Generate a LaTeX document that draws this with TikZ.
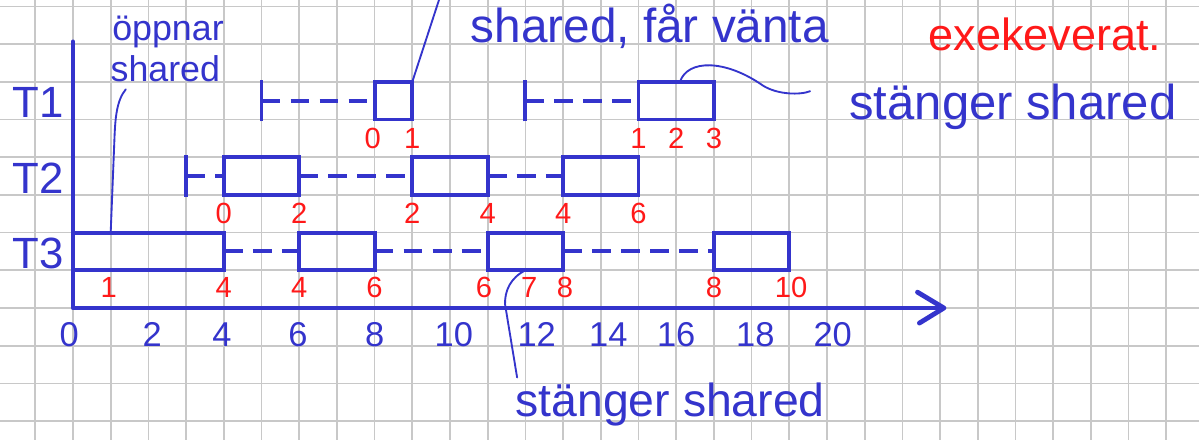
\documentclass[tikz,border=0pt]{standalone}
\usepackage{fontspec}
\setmainfont{Liberation Sans}
\usetikzlibrary{calc}
\definecolor{hb}{RGB}{52,52,204}
\definecolor{hr}{RGB}{255,25,25}
\definecolor{gridc}{RGB}{200,200,200}
\begin{document}
\begin{tikzpicture}[x=1cm,y=1cm,
  box/.style={draw=hb,line width=3pt,rectangle,inner sep=0pt,outer sep=0pt,minimum height=1cm},
  dl/.style={draw=hb,line width=3pt,dash pattern=on 0.5cm off 0.27cm},
  tk/.style={draw=hb,line width=3pt},
  ax/.style={draw=hb,line width=3.6pt,line cap=round,line join=round},
  rl/.style={text=hr,font=\fontsize{22}{24}\selectfont,inner sep=0pt,anchor=base},
  al/.style={text=hb,font=\fontsize{26}{28}\selectfont,inner sep=0pt,anchor=base},
  tl/.style={text=hb,font=\fontsize{33}{36}\selectfont,inner sep=0pt,anchor=base},
  ann/.style={text=hb,inner sep=0pt,anchor=base},
  ln/.style={draw=hb,line width=1.4pt,line cap=round}
]
\useasboundingbox (-1.936,-3.475) rectangle (29.867,8.170);
\fill[white] (-1.936,-3.475) rectangle (29.867,8.170);
\begin{scope}
\clip (-1.936,-3.475) rectangle (29.867,8.170);
\draw[gridc,line width=1.3pt] (-2,-4) grid (30,9);
\end{scope}

% axes
\coordinate (O) at (0,0);
\coordinate (ytop) at (0,7.06);
\coordinate (xend) at (23.1,0);
\draw[ax] (ytop) -- (O) -- (xend);
\draw[ax] (22.4,0.42) -- (xend) -- (22.45,-0.4);

% row labels
\node[tl] (lt1) at (-0.93,5.05) {T1};
\node[tl] (lt2) at (-0.93,3.05) {T2};
\node[tl] (lt3) at (-0.93,1.05) {T3};

% T1
\coordinate (t1s1) at (5,5.5);
\coordinate (t1s2) at (12,5.5);
\draw[tk] (5,4.95) -- (5,6.05);
\draw[tk] (12,4.95) -- (12,6.05);
\node[box,minimum width=1cm] (t1a) at (8.5,5.5) {};
\node[box,minimum width=2cm] (t1b) at (16,5.5) {};
\draw[dl] (t1s1) -- (t1a.west);
\draw[dl] (t1s2) -- (t1b.west);

% T2
\coordinate (t2s) at (3,3.5);
\draw[tk] (3,2.95) -- (3,4.05);
\node[box,minimum width=2cm] (t2a) at (5,3.5) {};
\node[box,minimum width=2cm] (t2b) at (10,3.5) {};
\node[box,minimum width=2cm] (t2c) at (14,3.5) {};
\draw[dl] (t2s) -- (t2a.west);
\draw[dl] (t2a.east) -- (t2b.west);
\draw[dl] (t2b.east) -- (t2c.west);

% T3
\node[box,minimum width=4cm] (t3a) at (2,1.5) {};
\node[box,minimum width=2cm] (t3b) at (7,1.5) {};
\node[box,minimum width=2cm] (t3c) at (12,1.5) {};
\node[box,minimum width=2cm] (t3d) at (18,1.5) {};
\draw[dl] (t3a.east) -- (t3b.west);
\draw[dl] (t3b.east) -- (t3c.west);
\draw[dl] (t3c.east) -- (t3d.west);

% red time labels
\foreach \x/\t [count=\i] in {7.95/0,9/1,15/1,16/2,17/3}
  \node[rl] (r1\i) at (\x,4.22) {\t};
\foreach \x/\t [count=\i] in {4/0,6/2,9/2,11/4,13/4,15/6}
  \node[rl] (r2\i) at (\x,2.25) {\t};
\foreach \x/\t [count=\i] in {0.95/1,4/4,6/4,8/6,10.9/6,12.1/7,13.05/8,17/8,19.05/10}
  \node[rl] (r3\i) at (\x,0.27) {\t};

% axis labels
\foreach \x/\t [count=\i] in {-0.1/0,2.1/2,3.95/4,5.97/6,8/8,10.1/10,12.3/12,14.2/14,16/16,18.1/18,20.15/20}
  \node[al] (ax\i) at (\x,-1.03) {\t};

% annotations
\node[ann,font=\fontsize{27}{30}\selectfont] (opp1) at (2.52,7.1) {öppnar};
\node[ann,font=\fontsize{27}{30}\selectfont] (opp2) at (2.45,6.02) {shared};
\coordinate (oppc) at (1.4,5.8);
\draw[ln] (oppc) .. controls (1.15,5.5) and (1.12,5.0) .. (1.1,4.5) -- ($(t3a.north west)+(1,0)$);

\node[ann,font=\fontsize{36}{40}\selectfont] (wait) at (15.3,7.03) {shared, får vänta};
\coordinate (waitc) at (9.75,8.3);
\draw[ln] (t1a.north east) -- (waitc);

\node[ann,text=hr,font=\fontsize{34}{38}\selectfont] (exe) at (25.78,6.84) {exekeverat.};

\node[ann,font=\fontsize{37}{40}\selectfont] (close1) at (24.93,5.0) {stänger shared};
\coordinate (close1c) at (19.55,5.75);
\draw[ln] ($(t1b.north)+(0.1,0)$) .. controls (16.3,6.6) and (17.3,6.6) .. (18.3,5.9) .. controls (18.7,5.65) and (19.3,5.65) .. (close1c);

\node[ann,font=\fontsize{35}{38}\selectfont] (close2) at (15.84,-2.89) {stänger shared};
\draw[ln] (t3c.south) .. controls (11.6,0.8) and (11.45,0.45) .. (11.46,0.1) -- ($(close2.north west)+(0.05,0.15)$);
\end{tikzpicture}
\end{document}
